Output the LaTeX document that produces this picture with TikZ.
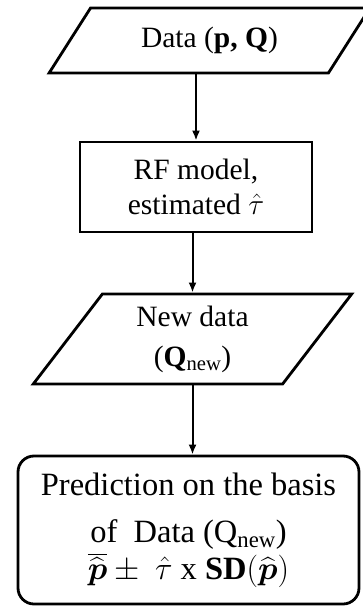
\documentclass[tikz,border=0pt]{standalone}
\usepackage{fix-cm}
\usepackage{amsmath}
\usepackage{fontspec}
\setmainfont{Liberation Serif}
\usetikzlibrary{shapes.geometric,arrows.meta}

\begin{document}
\begin{tikzpicture}[x=1pt,y=-1pt,
  iobox/.style={draw,line width=2.8pt,trapezium,trapezium stretches=true,inner sep=0pt,align=center,font=\fontsize{29.5}{40}\selectfont},
  procbox/.style={draw,line width=2.8pt,rectangle,inner sep=0pt,align=center,font=\fontsize{29.5}{35}\selectfont},
  endbox/.style={draw,line width=2.8pt,rectangle,rounded corners=16pt,inner sep=0pt,align=center,font=\fontsize{32.5}{47}\selectfont},
  flow/.style={line width=2pt,-{Latex[length=10pt,width=8pt]}}]
% 362 x 607 px, one unit = 1pt
\useasboundingbox (0,0) rectangle (362,607);
\node[iobox,trapezium left angle=48.3,trapezium right angle=131.7,minimum width=321pt,minimum height=65pt] (data) at (209.5,40.5) {Data (\textbf{p, Q})};
\node[procbox,minimum width=232pt,minimum height=90pt] (rf) at (196,187) {RF model,\\ estimated $\hat{\tau}$};
\node[iobox,trapezium left angle=57.2,trapezium right angle=122.8,minimum width=319pt,minimum height=90pt] (new) at (192.5,339) {New data\\ (\textbf{Q}\textsubscript{new})};
\node[endbox,minimum width=341pt,minimum height=148pt] (pred) at (188.5,530) {Prediction on the basis\\ of~ Data (Q\textsubscript{new})\\[-10pt] $\overline{\widehat{\boldsymbol{p}}}\pm{}$ $\hat{\tau}$ x $\mathbf{SD}(\widehat{\boldsymbol{p}})$};
\draw[flow] (data.south -| rf.north) -- (rf.north);
\draw[flow] (rf.south -| new.north) -- (new.north);
\draw[flow] (new.south) -- (new.south |- pred.north);
\end{tikzpicture}
\end{document}
